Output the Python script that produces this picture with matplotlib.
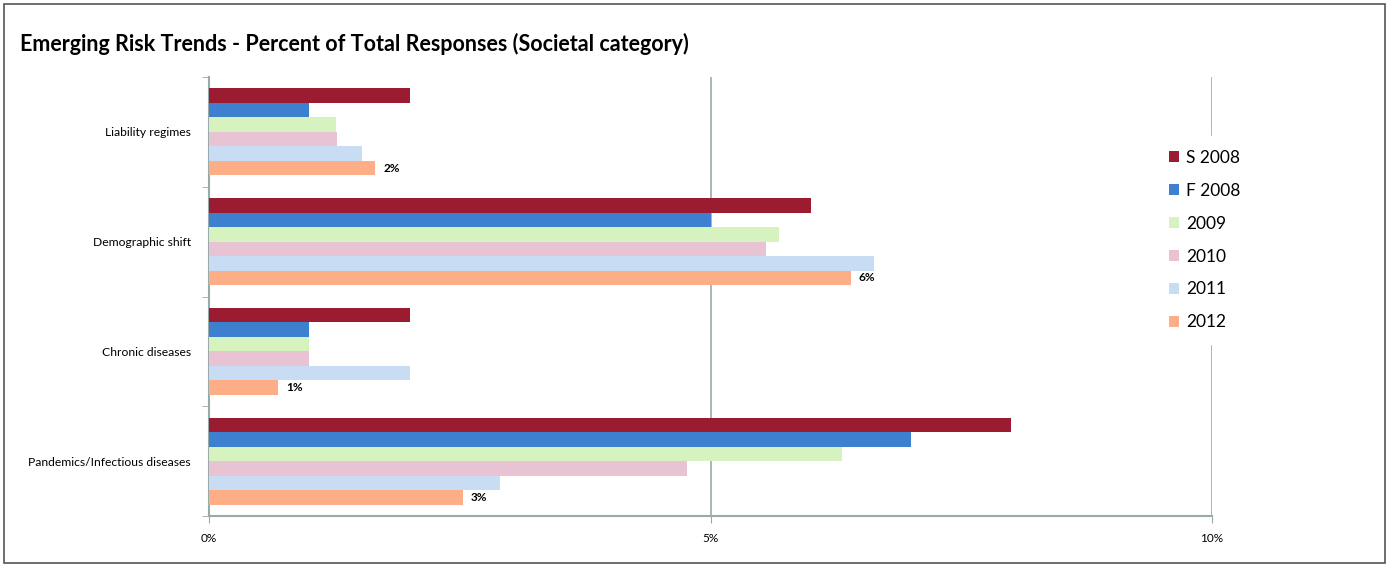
import matplotlib.pyplot as plt
import numpy as np
from matplotlib.patches import Rectangle

plt.rcParams['font.family'] = ['Lato', 'DejaVu Sans']

# Data (percent of total responses)
categories = ["Liability regimes", "Demographic shift", "Chronic diseases", "Pandemics/Infectious diseases"]
series = ["S 2008", "F 2008", "2009", "2010", "2011", "2012"]
s2008 = [2.0, 6.0, 2.0, 8.0]
f2008 = [1.0, 5.0, 1.0, 7.0]
y2009 = [1.27, 5.68, 1.0, 6.31]
y2010 = [1.28, 5.55, 1.0, 4.77]
y2011 = [1.53, 6.63, 2.0, 2.9]
y2012 = [1.66, 6.40, 0.69, 2.53]
labels_2012 = ["2%", "6%", "1%", "3%"]
xticks = [0, 5, 10]
xticklabels = ["0%", "5%", "10%"]

colors = ["#9B1B30", "#3D80D0", "#D6F2BE", "#E8C3D3", "#C8DCF3", "#FDAE87"]
values = [s2008, f2008, y2009, y2010, y2011, y2012]

fig = plt.figure(figsize=(13.89, 5.67), dpi=100)
ax = fig.add_axes([209/1389, 1 - 516/567, (1212-209)/1389, (516-77)/567])

# outer frame
fig.patches.append(Rectangle((4/1389, 4/567), 1381/1389, 559/567, transform=fig.transFigure,
                             fill=False, edgecolor="#555555", linewidth=1.2))

y = np.arange(len(categories))
h = 0.132
for i, (name, vals, c) in enumerate(zip(series, values, colors)):
    ax.barh(y + (i - 2.5) * h, vals, height=h, color=c, label=name, zorder=3)

# data labels on the 2012 series
for yi, v, lab in zip(y, y2012, labels_2012):
    ax.text(v + 0.08, yi + 2.5 * h, lab, va="center", ha="left", fontsize=8.5, fontweight="bold")

ax.set_xlim(0, 10)
ax.set_ylim(3.5, -0.5)
ax.set_xticks(xticks)
ax.set_xticklabels(xticklabels, fontsize=8.5)
ax.tick_params(axis="x", length=5, color="#9AAAAA", pad=7)
ax.set_yticks(y)
ax.set_yticklabels(categories, fontsize=8.7)
ax.tick_params(axis="y", which="major", length=0, pad=13)
ax.set_yticks(np.arange(-0.5, 4, 1), minor=True)
ax.tick_params(axis="y", which="minor", length=5, color="#9AAAAA")
ax.grid(axis="x", color="#9AAAAA", linewidth=1.2, zorder=0)

for side in ["top", "right"]:
    ax.spines[side].set_visible(False)
for side in ["left", "bottom"]:
    ax.spines[side].set_color("#9AAAAA")
    ax.spines[side].set_linewidth(1.5)

leg = ax.legend(loc="upper left", bbox_to_anchor=(937/1003, 0.885), frameon=True, fontsize=12.5,
                handlelength=0.6, handleheight=0.6, handletextpad=0.4, labelspacing=0.97,
                borderpad=0.8, fancybox=False)
leg.get_frame().set_edgecolor("white")
leg.get_frame().set_facecolor("white")
leg.get_frame().set_alpha(1)

fig.text(20/1389, 1 - 44/567, "Emerging Risk Trends - Percent of Total Responses (Societal category)",
         fontsize=15.5, fontweight="bold", va="center", ha="left")

fig.savefig("out.png", dpi=100, facecolor="white")
